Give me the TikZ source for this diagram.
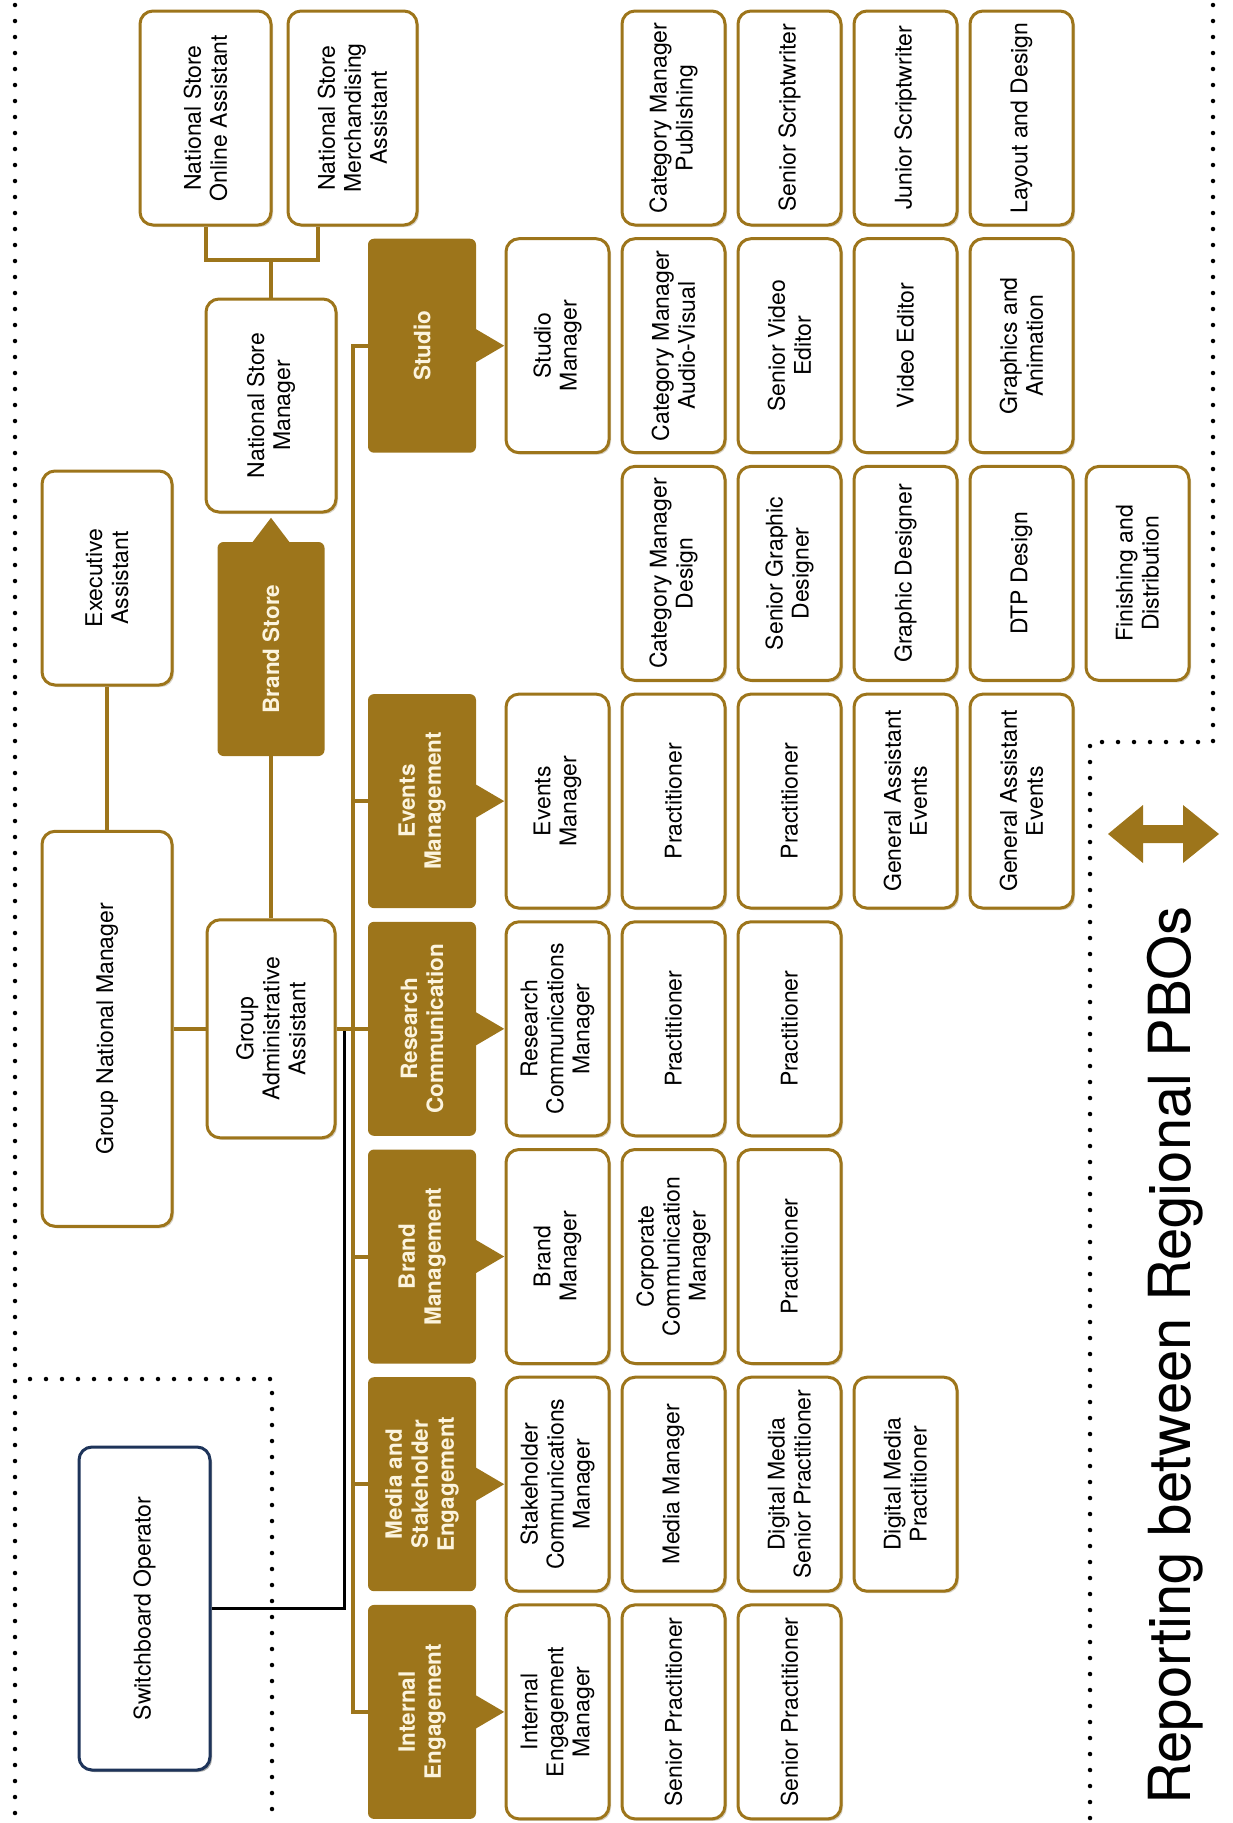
\documentclass[tikz,border=0pt]{standalone}
\usepackage{fontspec}
\setmainfont{TeX Gyre Heros}
\usetikzlibrary{calc,shadows}
\definecolor{gold}{RGB}{157,117,27}
\definecolor{cream}{RGB}{252,244,222}
\definecolor{navy}{RGB}{30,52,90}
\tikzset{
  wbox/.style={draw=gold, line width=3pt, fill=white, rounded corners=13pt, rotate=90,
    align=center, inner sep=2pt, font=\fontsize{23}{26}\selectfont,
    drop shadow={shadow xshift=2pt, shadow yshift=-2pt, opacity=0.25, fill=gold!60!black}},
  cell/.style={wbox, minimum width=214pt, minimum height=103pt},
  dbox/.style={fill=gold, rounded corners=6pt, rotate=90, align=center, inner sep=2pt,
    minimum width=214pt, minimum height=108pt, text=cream,
    font=\fontsize{22.5}{26}\selectfont\bfseries},
  conn/.style={draw=gold, line width=4pt},
  blk/.style={draw=black, line width=3pt},
  dotline/.style={line width=4.5pt, dash pattern=on 0pt off 16pt, line cap=round},
}
\begin{document}
\begin{tikzpicture}[x=1pt,y=-1pt]
\useasboundingbox (0,0) rectangle (1232,1823);

% dotted frames
\draw[dotline] (15,5) -- (15,1820);
\draw[dotline] (30,1379) -- (272,1379) -- (272,1820);
\draw[dotline] (1213,5) -- (1213,742) -- (1090,742) -- (1090,1820);

% top management
\node[wbox, minimum width=214pt, minimum height=131pt] (nsoa) at (205.5,118) {National Store\\Online Assistant};
\node[wbox, minimum width=214pt, minimum height=129pt] (nsma) at (352.5,118) {National Store\\Merchandising\\Assistant};
\node[wbox, minimum width=213pt, minimum height=130pt] (nsm) at (271,405.5) {National Store\\Manager};
\node[wbox, minimum width=214pt, minimum height=130pt] (ea) at (107,578) {Executive\\Assistant};
\node[wbox, minimum width=395pt, minimum height=130pt] (gnm) at (107,1028.8) {Group National Manager};
\node[dbox, minimum width=214pt, minimum height=107pt] (bs) at (271,649) {Brand Store};
\node[wbox, minimum width=218pt, minimum height=128pt] (gaa) at (271,1028.8) {Group\\Administrative\\Assistant};
\node[wbox, draw=navy, minimum width=323pt, minimum height=131pt,
  drop shadow={shadow xshift=2pt, shadow yshift=-2pt, opacity=0.25, fill=navy}] (sw) at (144.5,1608.5) {Switchboard Operator};

% departments
\node[dbox] (dst) at (422,345.7) {Studio};
\node[dbox] (dev) at (422,801.1) {Events\\Management};
\node[dbox] (drc) at (422,1028.8) {Research\\Communication};
\node[dbox] (dbm) at (422,1256.5) {Brand\\Management};
\node[dbox] (dme) at (422,1484.2) {Media and\\Stakeholder\\Engagement};
\node[dbox] (die) at (422,1711.9) {Internal\\Engagement};

% studio
\node[cell] (st21) at (673.5,118) {Category Manager\\Publishing};
\node[cell] (st31) at (789.5,118) {Senior Scriptwriter};
\node[cell] (st41) at (905.5,118) {Junior Scriptwriter};
\node[cell] (st51) at (1021.5,118) {Layout and Design};
\node[cell] (st1) at (557.5,345.7) {Studio\\Manager};
\node[cell] (st22) at (673.5,345.7) {Category Manager\\Audio-Visual};
\node[cell] (st32) at (789.5,345.7) {Senior Video\\Editor};
\node[cell] (st42) at (905.5,345.7) {Video Editor};
\node[cell] (st52) at (1021.5,345.7) {Graphics and\\Animation};
\node[cell] (st23) at (673.5,573.4) {Category Manager\\Design};
\node[cell] (st33) at (789.5,573.4) {Senior Graphic\\Designer};
\node[cell] (st43) at (905.5,573.4) {Graphic Designer};
\node[cell] (st53) at (1021.5,573.4) {DTP Design};
\node[cell] (st63) at (1137.5,573.4) {Finishing and\\Distribution};

% events
\node[cell] (ev1) at (557.5,801.1) {Events\\Manager};
\node[cell] (ev2) at (673.5,801.1) {Practitioner};
\node[cell] (ev3) at (789.5,801.1) {Practitioner};
\node[cell] (ev4) at (905.5,801.1) {General Assistant\\Events};
\node[cell] (ev5) at (1021.5,801.1) {General Assistant\\Events};

% research
\node[cell] (rc1) at (557.5,1028.8) {Research\\Communications\\Manager};
\node[cell] (rc2) at (673.5,1028.8) {Practitioner};
\node[cell] (rc3) at (789.5,1028.8) {Practitioner};

% brand
\node[cell] (bm1) at (557.5,1256.5) {Brand\\Manager};
\node[cell] (bm2) at (673.5,1256.5) {Corporate\\Communication\\Manager};
\node[cell] (bm3) at (789.5,1256.5) {Practitioner};

% media
\node[cell] (me1) at (557.5,1484.2) {Stakeholder\\Communications\\Manager};
\node[cell] (me2) at (673.5,1484.2) {Media Manager};
\node[cell] (me3) at (789.5,1484.2) {Digital Media\\Senior Practitioner};
\node[cell] (me4) at (905.5,1484.2) {Digital Media\\Practitioner};

% internal
\node[cell] (ie1) at (557.5,1711.9) {Internal\\Engagement\\Manager};
\node[cell] (ie2) at (673.5,1711.9) {Senior Practitioner};
\node[cell] (ie3) at (789.5,1711.9) {Senior Practitioner};

% pointers
\foreach \d in {dst,dev,drc,dbm,dme,die}
  \fill[gold] ($(\d.south)+(-1,-17)$) -- ($(\d.south)+(28,0)$) -- ($(\d.south)+(-1,17)$) -- cycle;
\fill[gold] ($(bs.east)+(-19,1)$) -- ($(bs.east)+(0,-24)$) -- ($(bs.east)+(19,1)$) -- cycle;

% connectors
\draw[blk] ($(gaa.south)+(8,0)$) |- (sw.south);
\draw[conn] (nsm.east) -- ++(0,-38) coordinate (nsj);
\draw[conn] (nsoa.west) |- (nsj);
\draw[conn] ($(nsma.west)+(-34.5,0)$) |- (nsj);
\draw[conn] (ea.west) -- (gnm.east);
\draw[conn] (bs.west) -- (gaa.east);
\draw[conn] (gnm.south) -- (gaa.north);
\draw[conn] (gaa.south) -- (drc.north);
\draw[conn] (dst.north) -- ++(-15,0) |- (die.north);
\foreach \d in {dev,dbm,dme}
  \draw[conn] (\d.north) -- ++(-15,0);

% reporting arrow and label
\fill[gold] (1108,834) -- (1143,805) -- (1143,825) -- (1183,825) -- (1183,805) -- (1219,834)
  -- (1183,863) -- (1183,843) -- (1143,843) -- (1143,863) -- cycle;
\node[rotate=90, anchor=base west, inner sep=0pt, font=\fontsize{58}{60}\selectfont] (rep) at (1190,1805) {Reporting between Regional PBOs};
\end{tikzpicture}
\end{document}
